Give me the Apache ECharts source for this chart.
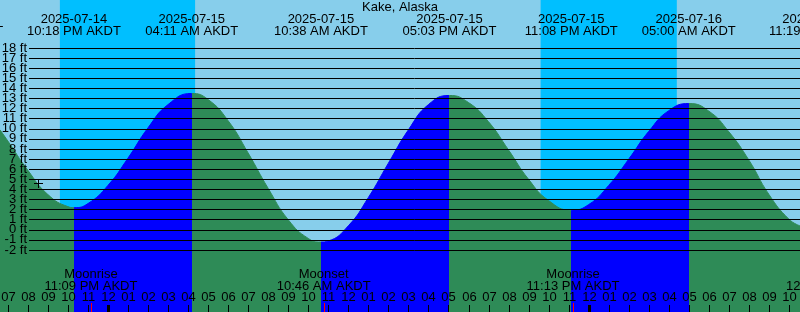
<!DOCTYPE html>
<html><head><meta charset="utf-8">
<script src="https://cdn.jsdelivr.net/npm/echarts@6/dist/echarts.min.js"></script>
<style>html,body{margin:0;padding:0;background:#87CEEB}#c{width:800px;height:312px}</style>
</head><body><div id="c"></div>
<script>
// ---- data (hours are measured from local midnight starting 2025-07-15) ----
const stationName = 'Kake, Alaska';
const tideHours = [-5.39, -5, -4, -3, -2, -1.7, -1, 0, 1, 2, 3, 4.18, 5, 6, 7, 8, 9, 10, 10.63, 11, 12, 13, 14, 15, 16, 17.05, 18, 19, 20, 21, 22, 23.13, 24, 25, 26, 27, 28, 29, 30, 31, 32, 33, 34, 34.55];
const tideFeet  = [9.9, 8.8, 5.9, 3.5, 2.3, 2.2, 2.6, 4.4, 7.1, 10.1, 12.4, 13.5, 12.9, 10.8, 7.6, 4.1, 1.0, -0.85, -1.2, -1.1, 0.4, 3.2, 6.6, 9.9, 12.4, 13.3, 12.6, 10.7, 7.9, 5.0, 2.9, 1.95, 2.5, 4.4, 7.0, 9.75, 11.8, 12.5, 11.75, 9.7, 6.9, 3.5, 1.05, 0.4];

const extremeHours = [-7.57, -1.70, 4.18, 10.63, 17.05, 23.13, 29.00, 35.32];
const extremeKinds = ['high', 'low', 'high', 'low', 'high', 'low', 'high', 'low'];
const extremeDates = ['2025-07-14', '2025-07-14', '2025-07-15', '2025-07-15', '2025-07-15', '2025-07-15', '2025-07-16', '2025-07-16'];
const extremeTimes = ['04:26 PM AKDT', '10:18 PM AKDT', '04:11 AM AKDT', '10:38 AM AKDT', '05:03 PM AKDT', '11:08 PM AKDT', '05:00 AM AKDT', '11:19 AM AKDT'];

const nightStarts = [-2.4, 21.6];
const nightEnds   = [4.35, 28.4];

const moonHours = [-0.85, 10.77, 23.22, 36.2];
const moonNames = ['Moonrise', 'Moonset', 'Moonrise', 'Moonset'];
const moonTimes = ['11:09 PM AKDT', '10:46 AM AKDT', '11:13 PM AKDT', '12:12 PM AKDT'];

const midnightHours = [0, 24];
const firstHour = -5;
const hourLabels = ['07','08','09','10','11','12','01','02','03','04','05','06','07','08','09','10','11','12','01','02','03','04','05','06','07','08','09','10','11','12','01','02','03','04','05','06','07','08','09','10'];

const ftTicks = [-2, -1, 0, 1, 2, 3, 4, 5, 6, 7, 8, 9, 10, 11, 12, 13, 14, 15, 16, 17, 18];
const ftLabels = ftTicks.map(v => v + ' ft');
const nowHour = -3.5, nowFeet = 4.6;

// ---- view ranges ----
const X_MIN = -5.39, X_MAX = 34.55;
const Y_MIN = -8.13, Y_MAX = 22.75;

const FONT = '13px "Liberation Sans", Arial, sans-serif';
const SKY = '#87CEEB', NIGHT = '#00BFFF', EBB = '#2E8B57', FLOOD = '#0000FF';

const pieces = [{ lt: extremeHours[0], color: FLOOD }];
for (let i = 0; i < extremeHours.length - 1; i++) {
  pieces.push({ gte: extremeHours[i], lt: extremeHours[i + 1], color: extremeKinds[i] === 'low' ? FLOOD : EBB });
}
pieces.push({ gte: extremeHours[extremeHours.length - 1], color: FLOOD });

const chart = echarts.init(document.getElementById('c'), null, { renderer: 'canvas' });

function txt(text, x, y, align) {
  return { type: 'text', style: { text, x, y, font: FONT, fill: '#000', align: align || 'center', verticalAlign: 'middle' } };
}

chart.setOption({
  animation: false,
  backgroundColor: SKY,
  title: {
    text: stationName, left: 'center', top: 1, padding: 0,
    textStyle: { fontSize: 13, fontWeight: 'normal', color: '#000', fontFamily: '"Liberation Sans", Arial, sans-serif' }
  },
  grid: [
    { left: 0, right: 0, top: 0, bottom: 0 },
    { left: 29, right: 0, top: 48, height: 202 }
  ],
  xAxis: [
    { gridIndex: 0, type: 'value', min: X_MIN, max: X_MAX, show: false },
    { gridIndex: 1, type: 'value', min: 0, max: 1, show: false }
  ],
  yAxis: [
    { gridIndex: 0, type: 'value', min: Y_MIN, max: Y_MAX, show: false },
    {
      gridIndex: 1, type: 'value', min: ftTicks[0], max: ftTicks[ftTicks.length - 1], interval: 1, z: 10,
      axisLine: { show: false }, axisTick: { show: false }, axisLabel: { show: false },
      splitLine: { show: true, showMinLine: true, showMaxLine: true, lineStyle: { color: '#000', width: 1 } }
    }
  ],
  visualMap: { type: 'piecewise', show: false, dimension: 0, seriesIndex: 1, pieces },
  series: [
    {
      type: 'custom', xAxisIndex: 0, yAxisIndex: 0, z: 1, silent: true,
      data: nightStarts.map((s, i) => [s, nightEnds[i]]),
      renderItem(params, api) {
        const p0 = api.coord([api.value(0), Y_MAX]);
        const p1 = api.coord([api.value(1), Y_MIN]);
        return { type: 'rect', shape: { x: p0[0], y: p0[1], width: p1[0] - p0[0], height: p1[1] - p0[1] }, style: { fill: NIGHT } };
      }
    },
    {
      type: 'line', xAxisIndex: 0, yAxisIndex: 0, z: 2, silent: true,
      data: tideHours.map((h, i) => [h, tideFeet[i]]),
      smooth: 0.5, symbol: 'none',
      lineStyle: { width: 1 },
      areaStyle: { opacity: 1, origin: 'start' }
    },
    {
      type: 'custom', xAxisIndex: 0, yAxisIndex: 0, z: 20, silent: true,
      data: [[nowHour, nowFeet]],
      renderItem(params, api) {
        const p = api.coord([api.value(0), api.value(1)]);
        const cx = Math.round(p[0]) + 0.5, cy = Math.round(p[1]) + 0.5;
        return { type: 'group', children: [
          { type: 'line', shape: { x1: cx - 4.5, y1: cy, x2: cx + 4.5, y2: cy }, style: { stroke: '#000', lineWidth: 1 } },
          { type: 'line', shape: { x1: cx, y1: cy - 4.5, x2: cx, y2: cy + 4.5 }, style: { stroke: '#000', lineWidth: 1 } }
        ] };
      }
    },
    {
      type: 'custom', xAxisIndex: 1, yAxisIndex: 1, z: 20, silent: true,
      data: ftTicks.map(v => [0, v]),
      renderItem(params, api) {
        const p = api.coord([api.value(0), api.value(1)]);
        return txt(ftLabels[params.dataIndex], p[0] - 2, p[1], 'right');
      }
    },
    {
      type: 'custom', xAxisIndex: 0, yAxisIndex: 0, z: 20, silent: true,
      data: hourLabels.map((l, i) => [firstHour + i]),
      renderItem(params, api) {
        const p = api.coord([api.value(0), Y_MIN]);
        const x = Math.round(p[0]) + 0.5, b = p[1];
        return { type: 'group', children: [
          { type: 'line', shape: { x1: x, y1: b - 7, x2: x, y2: b }, style: { stroke: '#000', lineWidth: 1 } },
          txt(hourLabels[params.dataIndex], x, b - 15)
        ] };
      }
    },
    {
      type: 'custom', xAxisIndex: 0, yAxisIndex: 0, z: 21, silent: true,
      data: midnightHours.map(h => [h]),
      renderItem(params, api) {
        const p = api.coord([api.value(0), Y_MIN]);
        const x = Math.round(p[0]);
        return { type: 'rect', shape: { x: x - 1, y: p[1] - 7, width: 3, height: 7 }, style: { fill: '#000' } };
      }
    },
    {
      type: 'custom', xAxisIndex: 0, yAxisIndex: 0, z: 21, silent: true,
      data: moonHours.map(h => [h]),
      renderItem(params, api) {
        const p = api.coord([api.value(0), Y_MIN]);
        const x = Math.round(p[0]) + 0.5;
        return { type: 'group', children: [
          { type: 'line', shape: { x1: x, y1: p[1] - 9, x2: x, y2: p[1] }, style: { stroke: '#FF0000', lineWidth: 1 } },
          txt(moonNames[params.dataIndex], p[0], p[1] - 38),
          txt(moonTimes[params.dataIndex], p[0], p[1] - 26)
        ] };
      }
    },
    {
      type: 'custom', xAxisIndex: 0, yAxisIndex: 0, z: 20, silent: true,
      data: extremeHours.map(h => [h]),
      renderItem(params, api) {
        const p = api.coord([api.value(0), Y_MAX]);
        return { type: 'group', children: [
          txt(extremeDates[params.dataIndex], p[0], p[1] + 19),
          txt(extremeTimes[params.dataIndex], p[0], p[1] + 31.5)
        ] };
      }
    }
  ]
});
</script>
</body></html>
